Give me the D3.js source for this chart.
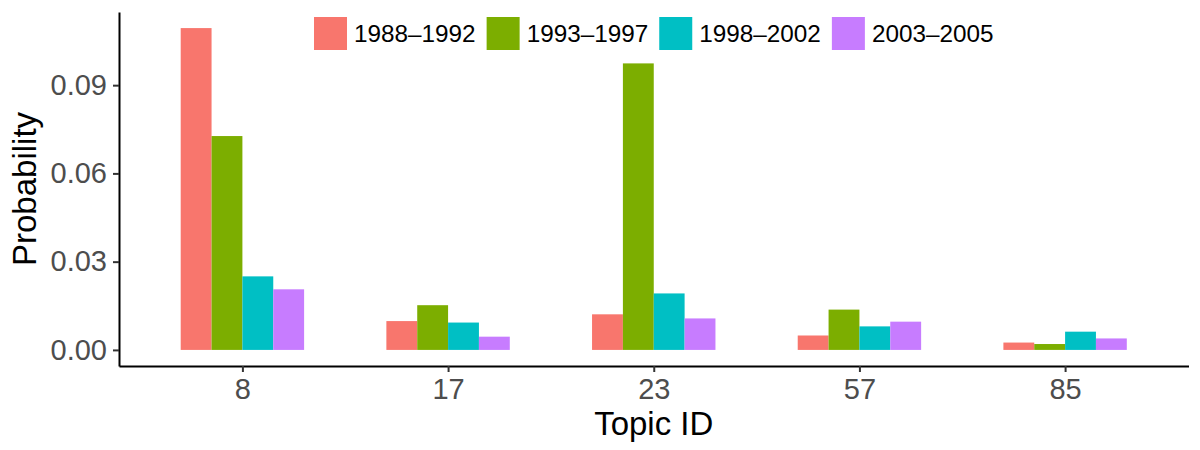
<!DOCTYPE html>
<html>
<head>
<meta charset="utf-8">
<script src="https://cdn.jsdelivr.net/npm/d3@7"></script>
<style>
  body { margin: 0; background: #fff; }
  svg { display: block; font-family: "Liberation Sans", Arial, sans-serif; }
</style>
</head>
<body>
<div id="chart"></div>
<script>
// topic ids on the x axis
var topics = ['8', '17', '23', '57', '85'];
// time periods (one bar per period in each group)
var periods = ['1988\u20131992', '1993\u20131997', '1998\u20132002', '2003\u20132005'];
var periodColors = ['#F8766D', '#7CAE00', '#00BFC4', '#C77CFF'];
// probability per topic, one array per period
var p1988 = [0.1094, 0.0098, 0.0121, 0.0049, 0.0025];
var p1993 = [0.0727, 0.0152, 0.0974, 0.0137, 0.0020];
var p1998 = [0.0250, 0.0093, 0.0192, 0.0080, 0.0062];
var p2003 = [0.0206, 0.0045, 0.0107, 0.0096, 0.0039];
var yTicks = [0, 0.03, 0.06, 0.09];

var chart = {

  config: {
    width: 1200,
    height: 450,
    left: 119,
    right: 1188.5,
    top: 12,
    bottom: 366,
    barWidth: 0.6
  },

  display: function() {
    this.series = [p1988, p1993, p1998, p2003];
    this.createSvg();
    this.createScales();
    this.createBars();
    this.createAxes();
    this.createLegend();
  },

  createSvg: function() {
    this.svg = d3.select('#chart').append('svg')
                 .attr('width', this.config.width)
                 .attr('height', this.config.height);
  },

  createScales: function() {
    var c = this.config;
    var max = d3.max(this.series, function(s) { return d3.max(s); });

    // ggplot style: discrete scale expanded by 0.6, continuous by 5%
    this.x = d3.scalePoint()
               .domain(topics)
               .range([c.left, c.right])
               .padding(0.6);

    var half = this.x.step() * c.barWidth / 2;
    this.xInner = d3.scaleBand()
                    .domain(periods)
                    .range([-half, half]);

    this.y = d3.scaleLinear()
               .domain([-0.05 * max, 1.05 * max])
               .range([c.bottom, c.top]);
  },

  createBars: function() {
    var self = this;
    var rows = [];
    this.series.forEach(function(values, i) {
      values.forEach(function(v, j) {
        rows.push({ topic: topics[j], period: periods[i], color: periodColors[i], value: v });
      });
    });

    this.svg.append('g')
            .selectAll('rect')
            .data(rows)
            .enter()
            .append('rect')
            .attr('x', function(d) { return self.x(d.topic) + self.xInner(d.period); })
            .attr('width', this.xInner.bandwidth())
            .attr('y', function(d) { return self.y(d.value); })
            .attr('height', function(d) { return self.y(0) - self.y(d.value); })
            .attr('fill', function(d) { return d.color; });
  },

  createAxes: function() {
    var c = this.config;

    var xAxis = this.svg.append('g')
                    .attr('transform', 'translate(0,' + c.bottom + ')')
                    .call(d3.axisBottom(this.x).tickSize(6).tickSizeOuter(0).tickPadding(6));

    var yAxis = this.svg.append('g')
                    .attr('transform', 'translate(' + c.left + ',0)')
                    .call(d3.axisLeft(this.y).tickValues(yTicks).tickFormat(d3.format('.2f'))
                            .tickSize(6).tickSizeOuter(0).tickPadding(6));

    [xAxis, yAxis].forEach(function(g) {
      g.select('.domain').attr('stroke', '#000').attr('stroke-width', 2);
      g.selectAll('.tick line').attr('stroke', '#333').attr('stroke-width', 2);
      g.selectAll('.tick text').attr('fill', '#4D4D4D').style('font-size', '29px');
    });

    this.svg.append('text')
            .attr('x', (c.left + c.right) / 2)
            .attr('y', 435)
            .attr('text-anchor', 'middle')
            .style('font-size', '33px')
            .text('Topic ID');

    this.svg.append('text')
            .attr('transform', 'translate(35.5,' + (c.top + c.bottom) / 2 + ') rotate(-90)')
            .attr('text-anchor', 'middle')
            .style('font-size', '33px')
            .text('Probability');
  },

  createLegend: function() {
    var c = this.config,
        key = 33,
        gap = 7,
        spacing = 11;

    var legend = this.svg.append('g');
    var items = legend.selectAll('g')
                      .data(periods)
                      .enter()
                      .append('g');

    items.append('rect')
         .attr('width', key)
         .attr('height', key)
         .attr('fill', function(d, i) { return periodColors[i]; });

    items.append('text')
         .attr('x', key + gap)
         .attr('y', key / 2)
         .attr('dy', '0.35em')
         .style('font-size', '24.3px')
         .text(function(d) { return d; });

    // lay the items out in a row, centred over the panel
    var offset = 0;
    items.each(function() {
      var w = key + gap + d3.select(this).select('text').node().getComputedTextLength();
      d3.select(this).attr('transform', 'translate(' + offset + ',0)');
      offset += w + spacing;
    });
    var total = offset - spacing;
    legend.attr('transform', 'translate(' + ((c.left + c.right) / 2 - total / 2) + ',17)');
  }

};

chart.display();
</script>
</body>
</html>
